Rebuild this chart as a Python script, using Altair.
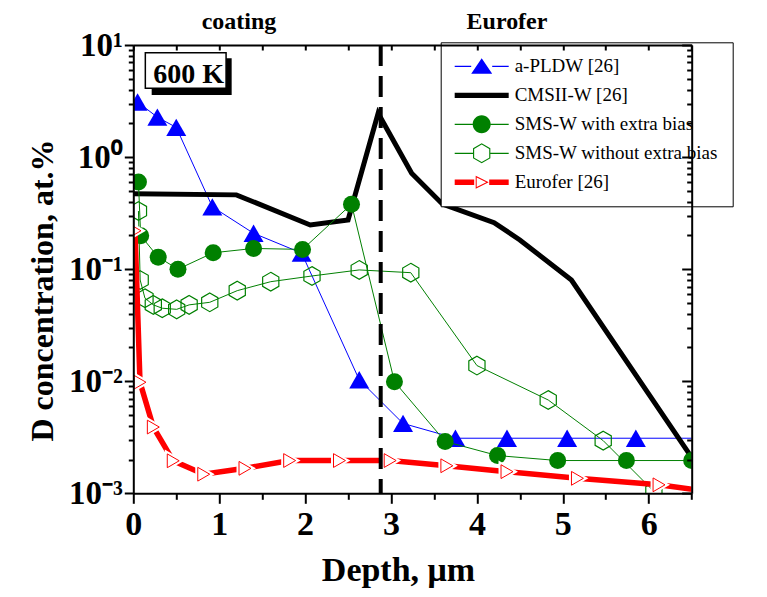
import altair as alt
import pandas as pd

FONT = "Liberation Serif"

# ---------------- data ----------------
pldw_x = [0.05, 0.28, 0.50, 0.92, 1.40, 1.96, 2.63, 3.14, 3.75, 4.35, 5.05, 5.85, 6.70]
pldw_y = [3.1, 2.27, 1.84, 0.36, 0.209, 0.139, 0.0103, 0.0042, 0.0031, 0.0031, 0.0031, 0.0031, 0.0031]

cms_x = [0.0, 1.20, 2.06, 2.50, 2.85, 3.24, 3.60, 4.20, 4.50, 5.10, 6.48]
cms_y = [0.47, 0.46, 0.248, 0.275, 2.46, 0.716, 0.38, 0.26, 0.182, 0.080, 0.0022]

smsb_x = [0.06, 0.086, 0.29, 0.52, 0.93, 1.40, 1.97, 2.54, 3.04, 3.63, 4.24, 4.94, 5.74, 6.50]
smsb_y = [0.60, 0.199, 0.128, 0.100, 0.140, 0.153, 0.150, 0.38, 0.0099, 0.0029, 0.00217, 0.00196, 0.00196, 0.00196]

smsn_x = [0.06, 0.08, 0.136, 0.233, 0.337, 0.505, 0.65, 0.89, 1.21, 1.60, 2.08, 2.63, 3.23, 4.00, 4.83, 5.47, 6.06]
smsn_y = [0.33, 0.080, 0.055, 0.048, 0.0448, 0.0438, 0.048, 0.0506, 0.0643, 0.0773, 0.0869, 0.0984, 0.093, 0.0138, 0.0068, 0.00295, 0.00104]

euro_x = [0.02, 0.078, 0.233, 0.465, 0.82, 1.30, 1.82, 2.40, 2.99, 3.65, 4.35, 5.17, 6.12, 6.60]
euro_y = [0.22, 0.0098, 0.0039, 0.00195, 0.00148, 0.00167, 0.00196, 0.00196, 0.00196, 0.00176, 0.00156, 0.00136, 0.00119, 0.00106]

boundary_x = [2.88]

series_names = ["a-PLDW [26]", "CMSII-W [26]", "SMS-W with extra bias",
                "SMS-W without extra bias", " Eurofer [26]"]
series_colors = ["#0000ff", "#000000", "#008000", "#008000", "#ff0000"]

region_labels = ["coating", "Eurofer"]
region_x = [1.23, 4.35]

temp_label = ["600 K"]
temp_x = [0.643]
temp_y = [4.55]
box_x, box_x2, box_y, box_y2 = [0.14], [1.08], [8.53], [4.11]
shadow_x, shadow_x2, shadow_y, shadow_y2 = [0.214], [1.145], [7.6], [3.58]

x_ticks = [i * 0.5 for i in range(14)]
y_ticks = [m * 10.0 ** e for e in range(-3, 1) for m in range(1, 10)] + [10.0]


# ---------------- shapes ----------------
def path(cmds, unit=10.0):
    """cmds: list of polygons in pixel units -> SVG path in symbol units."""
    out = []
    for poly in cmds:
        pts = ["%.4f,%.4f" % (px / unit, py / unit) for px, py in poly]
        out.append("M" + "L".join(pts) + "Z")
    return " ".join(out)


def rect(x1, x2, h):
    return [(x1, -h), (x2, -h), (x2, h), (x1, h)]


def hexagon(r, ccw=False):
    c = 0.8660254
    pts = [(0, -r), (c * r, -r / 2), (c * r, r / 2), (0, r), (-c * r, r / 2), (-c * r, -r / 2)]
    if ccw:
        pts = [pts[0]] + pts[1:][::-1]
    return pts


HEX = "M0,-1L0.866,-0.5L0.866,0.5L0,1L-0.866,0.5L-0.866,-0.5Z"

LEG_PLDW = path([rect(-27, -10.5, 0.6), rect(10.5, 27, 0.6), [(0, -8), (10.5, 7.5), (-10.5, 7.5)]])
LEG_CMS = path([rect(-27, 27, 2.6)])
LEG_SMSB = path([rect(-27, -9, 0.6), rect(9, 27, 0.6)]) + \
    " M-0.9,0A0.9,0.9,0,1,1,0.9,0A0.9,0.9,0,1,1,-0.9,0Z"
LEG_SMSN = path([rect(-27, -8.7, 0.6), rect(8.7, 27, 0.6), hexagon(10), hexagon(8.7, ccw=True)])
LEG_EURO = path([rect(-27, -7.5, 2.7), rect(7.5, 27, 2.7),
                 [(-6, -6.5), (7, 0), (-6, 6.5)], [(-5, -4.7), (-5, 4.7), (4.6, 0)]])
legend_shapes = [LEG_PLDW, LEG_CMS, LEG_SMSB, LEG_SMSN, LEG_EURO]

# ---------------- scales / axes ----------------
W, H = 558.4, 448.3
xscale = alt.Scale(domain=[0, 6.5], nice=False, zero=False)
yscale = alt.Scale(type="log", domain=[0.001, 10], nice=False)

ISDEC = "abs(log(datum.value)/LN10 - round(log(datum.value)/LN10)) < 0.001"
SUP = "['\u207b\u00b3','\u207b\u00b2','\u207b\u00b9','\u2070','\u00b9'][round(log(datum.value)/LN10)+3]"

common = dict(domainColor="black", domainWidth=2, tickColor="black", tickWidth=2,
              grid=False, zindex=1, labelFlush=False, labelOverlap=False)

bottom_axis = alt.Axis(orient="bottom", values=x_ticks,
                       tickSize={"condition": {"test": "datum.value % 1 === 0", "value": 10}, "value": 6},
                       labelExpr="datum.value % 1 === 0 ? format(datum.value, 'd') : ''",
                       labelFont=FONT, labelFontSize=34, labelFontWeight="bold", labelColor="black",
                       labelPadding=4, labelBaseline="top",
                       title="Depth, \u03bcm", titleFont=FONT, titleFontSize=34, titleFontWeight="bold",
                       titleColor="black", titleX=264.7, titleY=87.5, titleBaseline="alphabetic",
                       titleAlign="center", **common)
left_axis = alt.Axis(orient="left", values=y_ticks,
                     tickSize={"condition": {"test": ISDEC, "value": 9}, "value": 5},
                     labelExpr=ISDEC + " ? '10' + " + SUP + " : ''",
                     labelFont=FONT, labelFontSize=33, labelFontWeight="bold", labelColor="black",
                     labelPadding=2, labelBaseline="middle",
                     title="D concentration, at.%", titleFont=FONT, titleFontSize=32,
                     titleFontWeight="bold", titleColor="black", titleX=-80.3, titleY=245,
                     titleBaseline="alphabetic", titleAlign="center", titleAngle=270, **common)
top_axis = alt.Axis(orient="bottom", offset=-H, values=x_ticks, tickSize=5, labels=False,
                    title=None, **common)
right_axis = alt.Axis(orient="left", offset=-W, values=y_ticks,
                      tickSize={"condition": {"test": ISDEC, "value": 10}, "value": 5},
                      labels=False, title=None, **common)


def df(xs, ys):
    return pd.DataFrame({"x": xs, "y": ys})


def enc(chart, xaxis=None, yaxis=None):
    return chart.encode(
        x=alt.X("x:Q", scale=xscale, axis=xaxis),
        y=alt.Y("y:Q", scale=yscale, axis=yaxis),
    )


layers = []
# a-PLDW
layers.append(enc(alt.Chart(df(pldw_x, pldw_y)).mark_line(color="#0000ff", strokeWidth=1, clip=True),
                  bottom_axis, left_axis))
layers.append(enc(alt.Chart(df(pldw_x, pldw_y)).mark_point(shape="triangle-up", filled=True, size=400,
                                                           color="#0000ff", opacity=1, clip=True),
                  top_axis, right_axis))
# CMSII-W
layers.append(enc(alt.Chart(df(cms_x, cms_y)).mark_line(color="black", strokeWidth=5, clip=True)))
# SMS-W with extra bias
layers.append(enc(alt.Chart(df(smsb_x, smsb_y)).mark_line(color="#008000", strokeWidth=1, clip=True)))
layers.append(enc(alt.Chart(df(smsb_x, smsb_y)).mark_point(shape="circle", filled=True, size=289,
                                                           color="#008000", opacity=1, clip=True)))
# SMS-W without extra bias
layers.append(enc(alt.Chart(df(smsn_x, smsn_y)).mark_line(color="#008000", strokeWidth=1, clip=True)))
layers.append(enc(alt.Chart(df(smsn_x, smsn_y)).mark_point(shape=HEX, filled=False, size=350,
                                                           color="#008000", strokeWidth=1.2,
                                                           opacity=1, clip=True)))
# Eurofer
layers.append(enc(alt.Chart(df(euro_x, euro_y)).mark_line(color="#ff0000", strokeWidth=5.5, clip=True)))
layers.append(enc(alt.Chart(df(euro_x, euro_y)).mark_point(shape="triangle-right", size=190, fill="white",
                                                           stroke="white", strokeWidth=5, opacity=1,
                                                           fillOpacity=1, clip=True)))
layers.append(enc(alt.Chart(df(euro_x, euro_y)).mark_point(shape="triangle-right", size=190, fill="white",
                                                           stroke="#ff0000", strokeWidth=1, opacity=1,
                                                           fillOpacity=1, clip=True)))
# boundary coating / Eurofer
layers.append(alt.Chart(pd.DataFrame({"x": boundary_x})).mark_rule(
    color="black", strokeWidth=4, strokeDash=[21, 10]).encode(
    x=alt.X("x:Q", scale=xscale, axis=None)))

# 600 K box
layers.append(alt.Chart(pd.DataFrame({"x": shadow_x, "x2": shadow_x2, "y": shadow_y, "y2": shadow_y2}))
              .mark_rect(color="black").encode(
    x=alt.X("x:Q", scale=xscale, axis=None), x2="x2:Q",
    y=alt.Y("y:Q", scale=yscale, axis=None), y2="y2:Q"))
layers.append(alt.Chart(pd.DataFrame({"x": box_x, "x2": box_x2, "y": box_y, "y2": box_y2}))
              .mark_rect(fill="white", stroke="black", strokeWidth=1.5).encode(
    x=alt.X("x:Q", scale=xscale, axis=None), x2="x2:Q",
    y=alt.Y("y:Q", scale=yscale, axis=None), y2="y2:Q"))
layers.append(alt.Chart(pd.DataFrame({"x": temp_x, "y": temp_y, "t": temp_label})).mark_text(
    font=FONT, fontSize=28, fontWeight="bold", color="black", align="center", baseline="alphabetic").encode(
    x=alt.X("x:Q", scale=xscale, axis=None), y=alt.Y("y:Q", scale=yscale, axis=None), text="t:N"))

# region labels above the frame
layers.append(alt.Chart(pd.DataFrame({"x": region_x, "t": region_labels})).mark_text(
    font=FONT, fontSize=24, fontWeight="bold", color="black", align="center", baseline="alphabetic").encode(
    x=alt.X("x:Q", scale=xscale, axis=None), y=alt.value(-16), text="t:N"))

# legend (built from the series names)
leg = alt.Legend(orient="none", legendX=307.4, legendY=-2.7, title=None,
                 symbolSize=400, symbolStrokeWidth=0, symbolOpacity=1, symbolOffset=17,
                 labelFont=FONT, labelFontSize=19, labelColor="black", labelOffset=23,
                 rowPadding=9, padding=14, strokeColor="black", fillColor="white",
                 labelLimit=400)
layers.append(alt.Chart(alt.Data(values=[])).mark_point(filled=True, opacity=1).encode(
    color=alt.Color("series:N", scale=alt.Scale(domain=series_names, range=series_colors), legend=leg),
    shape=alt.Shape("series:N", scale=alt.Scale(domain=series_names, range=legend_shapes), legend=leg),
))

chart = alt.layer(*layers).resolve_axis(x="independent", y="independent").properties(
    width=W, height=H,
    padding={"left": 125.3, "top": 37, "right": 60, "bottom": 100},
    autosize=alt.AutoSizeParams(type="none"),
).configure_view(stroke=None)

chart.save("out.html", embed_options={"renderer": "svg", "actions": False})
